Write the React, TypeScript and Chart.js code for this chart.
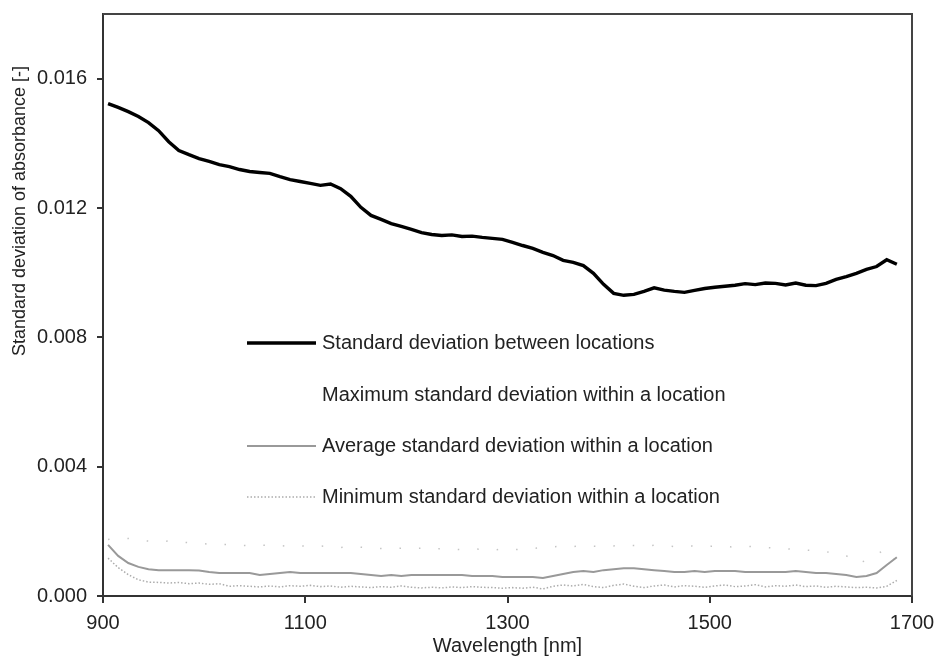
import React, { useEffect, useRef } from "react";
import { Chart, registerables } from "chart.js";

Chart.register(...registerables);

const wavelengths = [
  905, 915, 925, 935, 945, 955, 965, 975, 985, 995,
  1005, 1015, 1025, 1035, 1045, 1055, 1065, 1075, 1085, 1095,
  1105, 1115, 1125, 1135, 1145, 1155, 1165, 1175, 1185, 1195,
  1205, 1215, 1225, 1235, 1245, 1255, 1265, 1275, 1285, 1295,
  1305, 1315, 1325, 1335, 1345, 1355, 1365, 1375, 1385, 1395,
  1405, 1415, 1425, 1435, 1445, 1455, 1465, 1475, 1485, 1495,
  1505, 1515, 1525, 1535, 1545, 1555, 1565, 1575, 1585, 1595,
  1605, 1615, 1625, 1635, 1645, 1655, 1665, 1675, 1685,
];

const betweenLocations = [
  0.01523, 0.01511, 0.01498, 0.01483, 0.01464, 0.01439, 0.01405, 0.01378, 0.01365, 0.01353,
  0.01344, 0.01334, 0.01328, 0.01319, 0.01313, 0.01310, 0.01307, 0.01297, 0.01288, 0.01282,
  0.01276, 0.01270, 0.01274, 0.01260, 0.01236, 0.01202, 0.01177, 0.01165, 0.01152, 0.01143,
  0.01134, 0.01124, 0.01118, 0.01115, 0.01117, 0.01112, 0.01113, 0.01109, 0.01106, 0.01103,
  0.01094, 0.01084, 0.01075, 0.01063, 0.01053, 0.01038, 0.01032, 0.01022, 0.00998, 0.00964,
  0.00936, 0.00930, 0.00933, 0.00942, 0.00953, 0.00946, 0.00942, 0.00939, 0.00945, 0.00951,
  0.00955, 0.00958, 0.00961, 0.00966, 0.00963, 0.00968, 0.00967, 0.00962, 0.00968, 0.00961,
  0.00960, 0.00967, 0.00979, 0.00988, 0.00998, 0.01010, 0.01019, 0.01040, 0.01026,
];

const maxWithin = [
  0.00175, 0.00180, 0.00178, 0.00172, 0.00170, 0.00168, 0.00170, 0.00167, 0.00165, 0.00163,
  0.00160, 0.00158, 0.00160, 0.00157, 0.00155, 0.00158, 0.00156, 0.00154, 0.00157, 0.00155,
  0.00153, 0.00155, 0.00152, 0.00150, 0.00153, 0.00151, 0.00149, 0.00147, 0.00145, 0.00148,
  0.00146, 0.00148, 0.00144, 0.00147, 0.00145, 0.00143, 0.00146, 0.00144, 0.00142, 0.00145,
  0.00143, 0.00145, 0.00147, 0.00150, 0.00152, 0.00155, 0.00153, 0.00156, 0.00154, 0.00152,
  0.00155, 0.00158, 0.00156, 0.00154, 0.00157, 0.00155, 0.00153, 0.00156, 0.00154, 0.00152,
  0.00155, 0.00153, 0.00151, 0.00154, 0.00152, 0.00150, 0.00148, 0.00146, 0.00144, 0.00142,
  0.00140, 0.00137, 0.00132, 0.00125, 0.00100, 0.00110, 0.00130, 0.00145, 0.00100,
];

const averageWithin = [
  0.00158, 0.00124, 0.00102, 0.00090, 0.00083, 0.00080, 0.00080, 0.00080, 0.00080, 0.00079,
  0.00074, 0.00071, 0.00071, 0.00071, 0.00071, 0.00065, 0.00068, 0.00071, 0.00074, 0.00071,
  0.00071, 0.00071, 0.00071, 0.00071, 0.00071, 0.00068, 0.00065, 0.00062, 0.00065, 0.00062,
  0.00065, 0.00065, 0.00065, 0.00065, 0.00065, 0.00065, 0.00062, 0.00062, 0.00062, 0.00059,
  0.00059, 0.00059, 0.00059, 0.00056, 0.00062, 0.00068, 0.00074, 0.00077, 0.00074, 0.00080,
  0.00083, 0.00086, 0.00086, 0.00083, 0.00080, 0.00077, 0.00074, 0.00074, 0.00077, 0.00074,
  0.00077, 0.00077, 0.00077, 0.00074, 0.00074, 0.00074, 0.00074, 0.00074, 0.00077, 0.00074,
  0.00071, 0.00071, 0.00068, 0.00065, 0.00059, 0.00062, 0.00071, 0.00096, 0.00120,
];

const minWithin = [
  0.00117, 0.00088, 0.00066, 0.00050, 0.00043, 0.00042, 0.00040, 0.00042, 0.00038, 0.00040,
  0.00036, 0.00038, 0.00030, 0.00032, 0.00030, 0.00028, 0.00031, 0.00028, 0.00032, 0.00030,
  0.00033, 0.00029, 0.00031, 0.00027, 0.00030, 0.00028, 0.00026, 0.00029, 0.00027, 0.00031,
  0.00027, 0.00025, 0.00027, 0.00025, 0.00028, 0.00026, 0.00029, 0.00027, 0.00026, 0.00024,
  0.00026, 0.00024, 0.00027, 0.00022, 0.00030, 0.00034, 0.00031, 0.00036, 0.00029, 0.00026,
  0.00033, 0.00037, 0.00030, 0.00026, 0.00031, 0.00034, 0.00028, 0.00032, 0.00030, 0.00027,
  0.00031, 0.00034, 0.00029, 0.00031, 0.00035, 0.00028, 0.00032, 0.00030, 0.00034, 0.00029,
  0.00031, 0.00027, 0.00030, 0.00028, 0.00026, 0.00027, 0.00025, 0.00030, 0.00048,
];

const seriesNames = [
  "Standard deviation between locations",
  "Maximum standard deviation within a location",
  "Average standard deviation within a location",
  "Minimum standard deviation within a location",
];

const xTicks = [900, 1100, 1300, 1500, 1700];
const yTicks = [0, 0.004, 0.008, 0.012, 0.016];

const FONT = "'Liberation Sans', Arial, Helvetica, sans-serif";
const AXIS = "#333333";

const toPoints = (vals: number[]) => wavelengths.map((w, i) => ({ x: w, y: vals[i] }));

const zeroPadding = (s: any) => {
  s.paddingTop = 0;
  s.paddingBottom = 0;
  s.paddingLeft = 0;
  s.paddingRight = 0;
};

const framePlugin = {
  id: "frame",
  afterDraw(chart: any) {
    const { ctx, chartArea } = chart;
    ctx.save();
    ctx.strokeStyle = "#444444";
    ctx.lineWidth = 2;
    ctx.beginPath();
    ctx.moveTo(chartArea.left, chartArea.top);
    ctx.lineTo(chartArea.right, chartArea.top);
    ctx.lineTo(chartArea.right, chartArea.bottom);
    ctx.stroke();
    ctx.restore();
  },
};

const yTitlePlugin = {
  id: "yTitle",
  afterDraw(chart: any) {
    const { ctx } = chart;
    ctx.save();
    ctx.translate(20, 211);
    ctx.rotate(-Math.PI / 2);
    ctx.font = `18px ${FONT}`;
    ctx.fillStyle = "#222222";
    ctx.textAlign = "center";
    ctx.textBaseline = "middle";
    ctx.fillText("Standard deviation of absorbance [-]", 0, 0);
    ctx.restore();
  },
};

const legendPlugin = {
  id: "insideLegend",
  afterDatasetsDraw(chart: any) {
    const { ctx, chartArea } = chart;
    const x0 = chartArea.left + 144;
    const x1 = chartArea.left + 213;
    const tx = chartArea.left + 219;
    const baselines = [335, 387, 438, 489];
    ctx.save();
    ctx.font = `20px ${FONT}`;
    ctx.fillStyle = "#222222";
    ctx.textAlign = "left";
    ctx.textBaseline = "alphabetic";
    chart.data.datasets.forEach((ds: any, i: number) => {
      const by = chartArea.top + baselines[i];
      if (!ds.hideLegendSample) {
        ctx.save();
        ctx.strokeStyle = ds.borderColor;
        ctx.lineWidth = ds.borderWidth;
        ctx.setLineDash(ds.borderDash || []);
        ctx.beginPath();
        ctx.moveTo(x0, by - 6);
        ctx.lineTo(x1, by - 6);
        ctx.stroke();
        ctx.restore();
      }
      ctx.fillText(ds.label, tx, by);
    });
    ctx.restore();
  },
};

export default function App() {
  const ref = useRef<HTMLCanvasElement>(null);

  useEffect(() => {
    document.body.style.margin = "0";
    if (!ref.current) return;
    const chart = new Chart(ref.current, {
      type: "line",
      data: {
        datasets: [
          {
            label: seriesNames[0],
            data: toPoints(betweenLocations),
            borderColor: "#000000",
            borderWidth: 3.4,
            pointRadius: 0,
            order: 0,
          },
          {
            label: seriesNames[1],
            data: toPoints(maxWithin),
            borderColor: "#c4c4c4",
            borderWidth: 1.5,
            borderDash: [1.5, 18],
            pointRadius: 0,
            order: 3,
            hideLegendSample: true,
          } as any,
          {
            label: seriesNames[2],
            data: toPoints(averageWithin),
            borderColor: "#999999",
            borderWidth: 2,
            pointRadius: 0,
            order: 1,
          },
          {
            label: seriesNames[3],
            data: toPoints(minWithin),
            borderColor: "#acacac",
            borderWidth: 1.5,
            borderDash: [1.5, 2],
            pointRadius: 0,
            order: 2,
          },
        ],
      },
      options: {
        responsive: false,
        animation: false,
        devicePixelRatio: 1,
        layout: { padding: { top: 14, right: 22, left: 0, bottom: 0 } },
        plugins: {
          legend: { display: false },
          tooltip: { enabled: false },
        },
        font: { family: FONT, size: 20 },
        scales: {
          x: {
            type: "linear",
            min: 900,
            max: 1700,
            afterBuildTicks: (s: any) => {
              s.ticks = xTicks.map((v) => ({ value: v }));
            },
            afterFit: (s: any) => {
              s.height = 61;
              zeroPadding(s);
            },
            border: { color: AXIS, width: 2 },
            grid: { drawOnChartArea: false, drawTicks: true, tickLength: 7, color: AXIS, lineWidth: 2 },
            ticks: {
              color: "#222222",
              font: { family: FONT, size: 20 },
              padding: 8,
              maxRotation: 0,
              callback: (v: any) => String(v),
            },
            title: {
              display: true,
              text: "Wavelength [nm]",
              color: "#222222",
              font: { family: FONT, size: 20 },
              padding: { top: 0, bottom: -1 },
            },
          },
          y: {
            type: "linear",
            min: 0,
            max: 0.018,
            afterBuildTicks: (s: any) => {
              s.ticks = yTicks.map((v) => ({ value: v }));
            },
            afterFit: (s: any) => {
              s.width = 103;
              zeroPadding(s);
            },
            border: { color: AXIS, width: 2 },
            grid: { drawOnChartArea: false, drawTicks: true, tickLength: 6, color: AXIS, lineWidth: 2 },
            ticks: {
              color: "#222222",
              font: { family: FONT, size: 20 },
              padding: 10,
              callback: (v: any) => Number(v).toFixed(3),
            },
          },
        },
      } as any,
      plugins: [framePlugin, yTitlePlugin, legendPlugin],
    });
    return () => chart.destroy();
  }, []);

  return (
    <div style={{ width: 934, height: 657 }}>
      <canvas ref={ref} width={934} height={657} style={{ display: "block" }} />
    </div>
  );
}
